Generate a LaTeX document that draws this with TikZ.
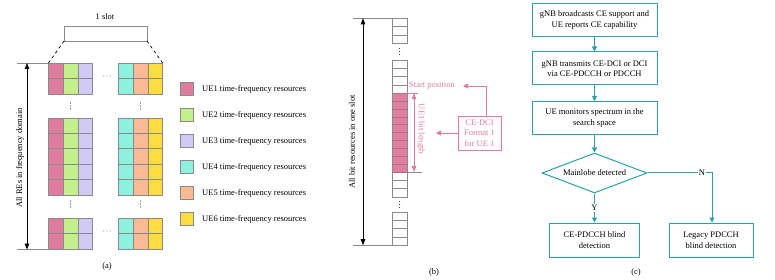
\documentclass[tikz,border=0pt]{standalone}
\usepackage{fontspec}
\setmainfont{Liberation Serif}
\usetikzlibrary{arrows.meta,shapes.geometric}
\definecolor{ueA}{HTML}{DE7D9E}
\definecolor{ueB}{HTML}{C3F08A}
\definecolor{ueC}{HTML}{D0CAF5}
\definecolor{ueD}{HTML}{8EF0DF}
\definecolor{ueE}{HTML}{F9BA94}
\definecolor{ueF}{HTML}{FFDD40}
\definecolor{gridgray}{HTML}{8A8A8A}
\definecolor{pinkc}{HTML}{E07AA0}
\definecolor{pinkdark}{HTML}{B0707F}
\definecolor{tealc}{HTML}{2AA0AA}
\tikzset{
  cellbox/.style={draw=gridgray, line width=0.6pt},
  txt/.style={font=\fontsize{8.5}{10.5}\selectfont, inner sep=1pt},
  dbl/.style={line width=0.8pt, {Triangle[length=6pt,width=4.5pt]}-{Triangle[length=6pt,width=4.5pt]}},
  flowbox/.style={draw=tealc, line width=1pt, minimum height=33pt, align=center, txt},
  flowarrow/.style={draw=tealc, line width=1pt, -{Triangle[length=5pt,width=5pt]}},
  pinkarrow/.style={draw=pinkc, line width=0.8pt, -{Triangle[length=5pt,width=5pt]}},
  dotfill/.style={fill=black!75},
}
\newcommand{\vdotsat}[2]{\foreach \dd in {-3,0,3} \fill[dotfill] (#1,#2+\dd) circle (0.55pt);}
\newcommand{\hdotsat}[2]{\foreach \dd in {-3.5,0,3.5} \fill[dotfill] (#1+\dd,#2) circle (0.45pt);}
\begin{document}
\begin{tikzpicture}[x=1pt,y=-1pt]
\useasboundingbox (0,0) rectangle (775,280);
% ---------------- panel (a)
\foreach \x/\col in {48.5/ueA,63.2/ueB,77.9/ueC,118.5/ueD,133.2/ueE,147.9/ueF}
  \foreach \y in {63,78.45,118,133.4,148.8,164.2,179.6,218,233.45}
    \draw[cellbox,fill=\col] (\x,\y) rectangle ++(14.7,15.45);
\node[txt] (slot) at (105,17) {1 slot};
\draw[gridgray,line width=0.7pt] (64,26) rectangle (147,41);
\draw[line width=0.7pt,dashed] (64,41) -- (48.5,63);
\draw[line width=0.7pt,dashed] (147,41) -- (162.6,63);
\hdotsat{107}{76}
\hdotsat{107}{231}
\vdotsat{70.5}{106}
\vdotsat{140.5}{106}
\vdotsat{70.5}{204}
\vdotsat{140.5}{204}
\draw[gridgray,line width=0.7pt] (17,63) -- (48.5,63);
\draw[gridgray,line width=0.7pt] (17,249.5) -- (48.5,249.5);
\draw[dbl] (27,63) -- (27,249.5);
\node[txt,rotate=90] (relab) at (20,158) {All REs in frequency domain};
\node[txt] (capa) at (107,266) {(a)};
% legend
\foreach \y/\col/\n in {89/ueA/1,115/ueB/2,141/ueC/3,167/ueD/4,193/ueE/5,219/ueF/6}{
  \draw[cellbox,fill=\col] (180,\y-6.5) rectangle ++(13,13);
  \node[txt,anchor=west] (leg\n) at (201,\y) {UE\n\ time-frequency resources};
}
% ---------------- panel (b)
\foreach \y in {18.3,26.6,34.9, 60,68.3,76.6,84.9, 172,180.3,188.6, 212,220.3,228.6,236.9}
  \draw[cellbox] (392,\y) rectangle ++(15,8.3);
\foreach \k in {0,...,9}
  \draw[draw=pinkdark,line width=0.6pt,fill=ueA] (392,93.2+7.88*\k) rectangle ++(15,7.88);
\draw[gridgray,line width=0.6pt] (392,93.2) -- (392,172) (407,93.2) -- (407,172);
\vdotsat{399.5}{51.5}
\vdotsat{399.5}{204.5}
\draw[gridgray,line width=0.7pt] (353,18.3) -- (392,18.3);
\draw[gridgray,line width=0.7pt] (353,245.2) -- (392,245.2);
\draw[dbl] (363,18.3) -- (363,245.2);
\node[txt,rotate=90] (bitlab) at (352,142) {All bit resources in one slot};
% UE1 bit length
\draw[pinkc,line width=0.7pt] (407,93.2) -- (418,93.2);
\draw[gridgray,line width=0.7pt] (407,172) -- (422,172);
\draw[dbl,draw=pinkc,fill=pinkc] (414,93.2) -- (414,172);
\node[txt,rotate=-90,text=pinkc] (uelen) at (421,129) {UE1 bit length};
\node[txt,anchor=west,text=pinkc] (start) at (408,86) {Start position};
\node[draw=pinkc,line width=0.8pt,minimum width=43pt,minimum height=34pt,align=center,text=pinkc,font=\fontsize{8.5}{10.5}\selectfont,inner sep=1pt] (dci) at (479.5,133) {CE-DCI\\Format 1\\for UE 1};
\coordinate (sp) at (463,86);
\coordinate (bl) at (436,133);
\draw[pinkarrow] (dci.north -| 486,0) -- (486,86) -- (sp);
\draw[pinkarrow] (dci.west) -- (bl);
\node[txt] (capb) at (434,272) {(b)};
% ---------------- panel (c)
\node[flowbox,minimum width=125pt] (b1) at (594.5,20) {gNB broadcasts CE support and\\UE reports CE capability};
\node[flowbox,minimum width=125pt] (b2) at (594.5,68.5) {gNB transmits CE-DCI or DCI\\via CE-PDCCH or PDCCH};
\node[flowbox,minimum width=125pt] (b3) at (594.5,118) {UE monitors spectrum in the\\search space};
\node[draw=tealc,line width=1pt,diamond,aspect=2.6,minimum width=105pt,minimum height=40pt,inner sep=0pt,txt] (dm) at (594.5,173) {Mainlobe detected};
\node[flowbox,minimum width=90pt,minimum height=34pt] (b4) at (594.5,240) {CE-PDCCH blind\\detection};
\node[flowbox,minimum width=84pt,minimum height=34pt] (b5) at (711,240) {Legacy PDCCH\\blind detection};
\draw[flowarrow] (b1) -- (b2);
\draw[flowarrow] (b2) -- (b3);
\draw[flowarrow] (b3) -- (dm);
\draw[flowarrow] (dm) -- node[txt,fill=white,inner sep=1.5pt] {Y} (b4);
\draw[flowarrow] (dm.east) -- (712,173) -- (b5.north -| 712,0);
\node[txt,fill=white,inner sep=1pt] (nl) at (702,173) {N};
\node[txt] (capc) at (636,272) {(c)};
\end{tikzpicture}
\end{document}
